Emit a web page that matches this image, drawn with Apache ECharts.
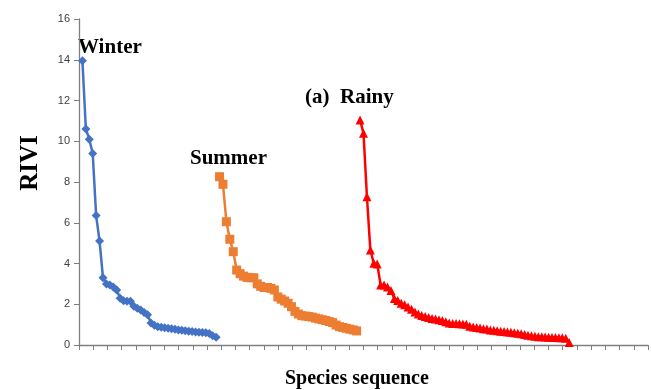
<!DOCTYPE html>
<html>
<head>
<meta charset="utf-8">
<script src="https://cdn.jsdelivr.net/npm/echarts@6/dist/echarts.min.js"></script>
<style>
html,body{margin:0;padding:0;background:#fff;}
#chart{width:651px;height:390px;}
</style>
</head>
<body>
<div id="chart"></div>
<script>
// Species sequence starts for each season
var winterStart = 1;
var summerStart = 41;
var rainyStart = 82;

var winterValues = [13.95,10.6,10.1,9.4,6.35,5.1,3.3,3.0,2.95,2.85,2.7,2.3,2.17,2.15,2.15,1.9,1.8,1.72,1.6,1.48,
  1.08,0.97,0.9,0.87,0.85,0.82,0.8,0.77,0.74,0.72,0.7,0.68,0.66,0.64,0.62,0.61,0.6,0.56,0.46,0.38];

var summerValues = [8.26,7.89,6.05,5.19,4.58,3.68,3.5,3.38,3.32,3.3,3.3,3.0,2.88,2.82,2.82,2.78,2.7,2.36,2.25,2.16,
  2.05,1.88,1.65,1.52,1.44,1.42,1.4,1.37,1.32,1.28,1.24,1.2,1.15,1.1,0.98,0.9,0.86,0.82,0.78,0.74,0.69];

var rainyValues = [11.04,10.39,7.28,4.66,4.01,3.98,2.94,2.94,2.85,2.68,2.28,2.18,2.05,1.98,1.86,1.75,1.62,1.52,1.45,1.4,
  1.35,1.3,1.27,1.24,1.2,1.14,1.08,1.06,1.05,1.04,1.03,1.02,0.92,0.88,0.86,0.84,0.8,0.78,0.74,0.72,
  0.7,0.68,0.66,0.64,0.62,0.6,0.58,0.55,0.52,0.48,0.45,0.43,0.41,0.4,0.39,0.38,0.37,0.37,0.36,0.35,0.33,0.12];

var yTicks = [0,2,4,6,8,10,12,14,16];
var xMax = 166;
var xTickCount = 40;

function pairs(start, vals){
  var out = [];
  for (var i = 0; i < vals.length; i++) out.push([start + i, vals[i]]);
  return out;
}

var chart = echarts.init(document.getElementById('chart'), null, {renderer:'canvas'});
var serif = '"Liberation Serif","Times New Roman",serif';
chart.setOption({
  animation:false,
  backgroundColor:'#fff',
  grid:{left:79, right:3, top:19, bottom:45},
  xAxis:{
    type:'value', min:0, max:xMax, interval:xMax/xTickCount,
    axisLine:{show:true, lineStyle:{color:'#7f7f7f', width:1.3}},
    axisTick:{show:true, length:5, lineStyle:{color:'#7f7f7f'}},
    axisLabel:{show:false},
    splitLine:{show:false}
  },
  yAxis:{
    type:'value', min:yTicks[0], max:yTicks[yTicks.length-1], interval:yTicks[1]-yTicks[0],
    axisLine:{show:true, lineStyle:{color:'#7f7f7f', width:1.3}},
    axisTick:{show:true, length:5, lineStyle:{color:'#7f7f7f'}},
    axisLabel:{color:'#404040', fontSize:11, fontFamily:'"Liberation Sans",Arial,sans-serif', margin:9},
    splitLine:{show:false}
  },
  series:[
    {name:'Winter', type:'line', data:pairs(winterStart, winterValues),
     symbol:'diamond', symbolSize:9, lineStyle:{color:'#4472C4', width:2.5},
     itemStyle:{color:'#4472C4'}},
    {name:'Summer', type:'line', data:pairs(summerStart, summerValues),
     symbol:'rect', symbolSize:9, lineStyle:{color:'#ED7D31', width:2.5},
     itemStyle:{color:'#ED7D31'}},
    {name:'Rainy', type:'line', data:pairs(rainyStart, rainyValues),
     symbol:'triangle', symbolSize:9, lineStyle:{color:'#FF0000', width:2.5},
     itemStyle:{color:'#FF0000'}}
  ],
  graphic:[
    {type:'text', left:78, top:37, style:{text:'Winter', font:'bold 21px '+serif, fill:'#000'}},
    {type:'text', left:190, top:148, style:{text:'Summer', font:'bold 21px '+serif, fill:'#000'}},
    {type:'text', left:305, top:87, style:{text:'(a)  Rainy', font:'bold 21px '+serif, fill:'#000'}},
    {type:'text', left:285, top:369, style:{text:'Species sequence', font:'bold 20px '+serif, fill:'#000'}},
    {type:'text', x:31, y:163, rotation:Math.PI/2, style:{text:'RIVI', font:'bold 25px '+serif, fill:'#000', textAlign:'center', textVerticalAlign:'middle'}}
  ]
});
</script>
</body>
</html>
